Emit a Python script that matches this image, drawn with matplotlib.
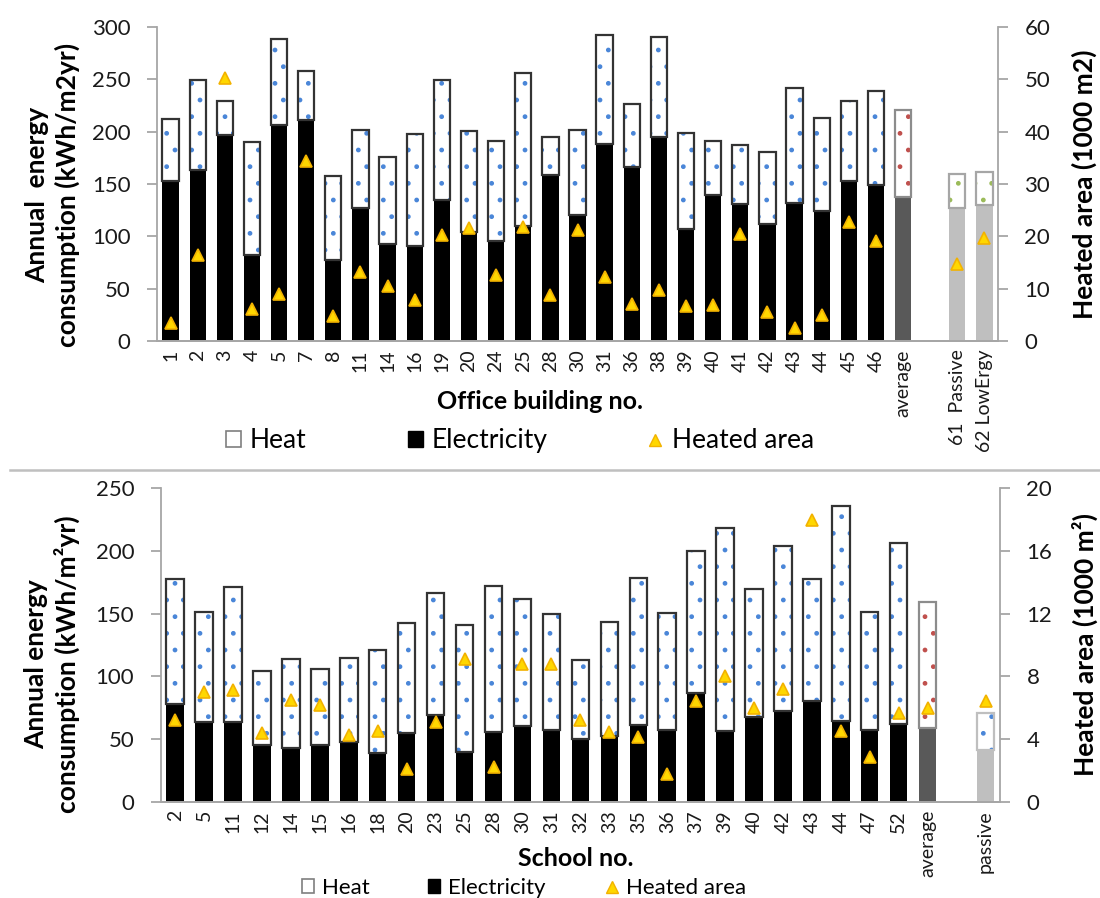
import matplotlib
matplotlib.use('Agg')
import matplotlib.pyplot as plt
from matplotlib.patches import Patch
from matplotlib.lines import Line2D
import numpy as np

plt.rcParams['font.family'] = ['Lato', 'DejaVu Sans']
plt.rcParams['hatch.linewidth'] = 1.0

# ---------------- Office buildings (top panel) ----------------
office_labels = ['1', '2', '3', '4', '5', '7', '8', '11', '14', '16', '19', '20', '24', '25',
                 '28', '30', '31', '36', '38', '39', '40', '41', '42', '43', '44', '45', '46']
office_elec = [152.5, 163, 196.5, 82, 206.7, 211.5, 77, 127.4, 92.4, 90.8, 135, 103.8, 95.2, 110,
               159, 120, 188, 166, 195, 107.3, 139.8, 131, 112, 132, 124.5, 152.5, 149]
office_heat = [59.5, 86, 32.5, 108, 81.8, 46.1, 81, 74.6, 83.4, 106.7, 114, 96.8, 95.6, 146.4,
               36, 82, 104.7, 60, 95.4, 91.7, 51, 56, 68.6, 110, 88.5, 76.5, 90]
office_area = [3.4, 16.4, 50.3, 6.2, 9.0, 34.3, 4.8, 13.2, 10.5, 7.9, 20.2, 21.5, 12.7, 21.8,
               8.7, 21.3, 12.2, 7.1, 9.8, 6.6, 6.8, 20.5, 5.5, 2.4, 4.9, 22.7, 19.1]
office_avg_label = 'average'
office_avg_elec = 137.6
office_avg_heat = 82.8
office_ref_labels = ['61  Passive', '62 LowErgy']
office_ref_elec = [127.4, 130]
office_ref_heat = [32.6, 31.5]
office_ref_area = [14.8, 19.7]

# ---------------- Schools (bottom panel) ----------------
school_labels = ['2', '5', '11', '12', '14', '15', '16', '18', '20', '23', '25', '28', '30',
                 '31', '32', '33', '35', '36', '37', '39', '40', '42', '43', '44', '47', '52']
school_elec = [77.7, 63.6, 63.3, 45.2, 42.6, 45, 47.6, 38.6, 54.5, 69.1, 39.9, 55.9, 60.4,
               57.2, 49.7, 52.4, 61.2, 57.2, 86.4, 56.6, 67.8, 72.6, 80.3, 64.6, 57.2, 62]
school_heat = [100.2, 87.4, 108.2, 59.3, 71.4, 60.6, 67.3, 82.4, 88.1, 97.1, 101.1, 116.4, 101,
               92.5, 63.3, 91.2, 117, 93.1, 113.9, 162, 101.6, 131.7, 97.1, 171.6, 93.8, 144.4]
school_area = [5.2, 7.0, 7.1, 4.4, 6.5, 6.15, 4.25, 4.5, 2.06, 5.06, 9.1, 2.2, 8.8,
               8.8, 5.2, 4.45, 4.1, 1.77, 6.45, 8.04, 6.0, 7.2, 18.0, 4.5, 2.83, 5.64]
school_avg_label = 'average'
school_avg_elec = 58.5
school_avg_heat = 101.1
school_avg_area = 5.96
school_ref_labels = ['passive']
school_ref_elec = [41.2]
school_ref_heat = [29.8]
school_ref_area = [6.45]

W, H = 1100, 898
fig = plt.figure(figsize=(11, 8.98), dpi=100)

SPINE = '#a6a6a6'
BLUE = '#4a86d8'
RED = '#c0504d'
GREEN = '#9bbb59'
TRI_FACE = '#ffd700'
TRI_EDGE = '#f2b200'
BW = 0.6


def px_axes(left, right, top, bottom):
    return fig.add_axes([left / W, 1 - bottom / H, (right - left) / W, (bottom - top) / H])


def heat_bars(ax, x, heat, bottom, dot_color, edge_color):
    ax.bar(x, heat, bottom=bottom, width=BW, facecolor='white', edgecolor=dot_color,
           hatch='.', linewidth=0, zorder=2)
    ax.bar(x, heat, bottom=bottom, width=BW, facecolor='none', edgecolor=edge_color,
           linewidth=1.6, zorder=3)


def style_axes(ax, ax2):
    for a in (ax, ax2):
        a.spines['top'].set_visible(False)
        for s in ('left', 'right', 'bottom'):
            a.spines[s].set_color(SPINE)
            a.spines[s].set_linewidth(1.3)
    ax.spines['right'].set_visible(False)
    ax2.spines['left'].set_visible(False)
    ax.tick_params(axis='y', direction='out', length=7, width=1.3, color=SPINE,
                   labelsize=16, pad=12, labelcolor='#1a1a1a')
    ax2.tick_params(axis='y', direction='out', length=7, width=1.3, color=SPINE,
                    labelsize=16, pad=12, labelcolor='#1a1a1a')
    ax.tick_params(axis='x', length=0, labelsize=14, pad=6, labelrotation=90,
                   labelcolor='#1a1a1a')


def legend_item(handle, label, x_px, y_px, fs):
    fig.legend([handle], [label], loc='center left',
               bbox_to_anchor=(x_px / W, 1 - y_px / H), frameon=False, fontsize=fs,
               borderpad=0, borderaxespad=0, handletextpad=0.35,
               handlelength=0.55, handleheight=0.55)


heat_handle = Patch(facecolor='white', edgecolor='#7f7f7f', linewidth=1.2)
elec_handle = Patch(facecolor='black', edgecolor='black')
area_handle = Line2D([], [], ls='none', marker='^', ms=8, mfc=TRI_FACE, mec=TRI_EDGE, mew=1)

# ======================= TOP PANEL =======================
ax = px_axes(157, 998, 27, 341)
ax2 = ax.twinx()

n = len(office_labels)
xo = np.arange(n)
x_avg = n
x_ref = n + 2 + np.arange(len(office_ref_labels))

ax.bar(xo, office_elec, width=BW, color='black', zorder=2)
heat_bars(ax, xo, office_heat, office_elec, BLUE, '#333333')
ax.bar([x_avg], [office_avg_elec], width=BW, color='#595959', zorder=2)
heat_bars(ax, [x_avg], [office_avg_heat], [office_avg_elec], RED, '#8c8c8c')
ax.bar(x_ref, office_ref_elec, width=BW, color='#bfbfbf', zorder=2)
heat_bars(ax, x_ref, office_ref_heat, office_ref_elec, GREEN, '#a6a6a6')

ax2.plot(xo, office_area, ls='none', marker='^', ms=9, mfc=TRI_FACE, mec=TRI_EDGE, mew=1.2)
ax2.plot(x_ref, office_ref_area, ls='none', marker='^', ms=9, mfc=TRI_FACE, mec=TRI_EDGE, mew=1.2)

ax.set_xlim(-0.5, x_ref[-1] + 0.5)
ax.set_ylim(0, 300)
ax.set_yticks(np.arange(0, 301, 50))
ax2.set_ylim(0, 60)
ax2.set_yticks(np.arange(0, 61, 10))
ax.set_xticks(list(xo) + [x_avg] + list(x_ref))
ax.set_xticklabels(office_labels + [office_avg_label] + office_ref_labels)
style_axes(ax, ax2)

ax.set_ylabel('Annual  energy\nconsumption (kWh/m2yr)', fontsize=19, fontweight='bold',
              linespacing=1.25)
ax.yaxis.set_label_coords((80 - 157) / 841, 0.465)
ax2.set_ylabel('Heated area (1000 m2)', fontsize=19, fontweight='bold')
ax2.yaxis.set_label_coords((1072 - 157) / 841, 0.5)
ax.set_xlabel('Office building no.', fontsize=18, fontweight='bold')
ax.xaxis.set_label_coords((540 - 157) / 841, (341 - 390) / 314)

legend_item(heat_handle, 'Heat', 226, 441, 19)
legend_item(elec_handle, 'Electricity', 408, 441, 19)
legend_item(area_handle, 'Heated area', 648, 441, 19)

# separator line
fig.add_artist(Line2D([10 / W, 1.0], [1 - 470 / H, 1 - 470 / H], color='#bfbfbf', lw=1.8,
                      transform=fig.transFigure))

# ======================= BOTTOM PANEL =======================
bx = px_axes(160.7, 1000, 488.3, 801.7)
bx2 = bx.twinx()

m = len(school_labels)
xs = np.arange(m)
xs_avg = m
xs_ref = m + 2 + np.arange(len(school_ref_labels))

bx.bar(xs, school_elec, width=BW, color='black', zorder=2)
heat_bars(bx, xs, school_heat, school_elec, BLUE, '#333333')
bx.bar([xs_avg], [school_avg_elec], width=BW, color='#595959', zorder=2)
heat_bars(bx, [xs_avg], [school_avg_heat], [school_avg_elec], RED, '#8c8c8c')
bx.bar(xs_ref, school_ref_elec, width=BW, color='#bfbfbf', zorder=2)
heat_bars(bx, xs_ref, school_ref_heat, school_ref_elec, BLUE, '#bfbfbf')

bx2.plot(list(xs) + [xs_avg] + list(xs_ref), school_area + [school_avg_area] + school_ref_area,
         ls='none', marker='^', ms=9, mfc=TRI_FACE, mec=TRI_EDGE, mew=1.2)

bx.set_xlim(-0.5, xs_ref[-1] + 0.5)
bx.set_ylim(0, 250)
bx.set_yticks(np.arange(0, 251, 50))
bx2.set_ylim(0, 20)
bx2.set_yticks(np.arange(0, 21, 4))
bx.set_xticks(list(xs) + [xs_avg] + list(xs_ref))
bx.set_xticklabels(school_labels + [school_avg_label] + school_ref_labels)
style_axes(bx, bx2)

bx.set_ylabel('Annual energy\nconsumption (kWh/m\u00b2yr)', fontsize=19, fontweight='bold',
              linespacing=1.25)
bx.yaxis.set_label_coords((80 - 160.7) / 839.3, 0.44)
bx2.set_ylabel('Heated area (1000 m\u00b2)', fontsize=19, fontweight='bold')
bx2.yaxis.set_label_coords((1072 - 160.7) / 839.3, 0.5)
bx.set_xlabel('School no.', fontsize=18, fontweight='bold')
bx.xaxis.set_label_coords((576 - 160.7) / 839.3, (801.7 - 847) / 313.4)

legend_item(heat_handle, 'Heat', 302, 888, 16)
legend_item(elec_handle, 'Electricity', 428, 888, 16)
legend_item(area_handle, 'Heated area', 606, 888, 16)

fig.savefig('out.png', dpi=100)
